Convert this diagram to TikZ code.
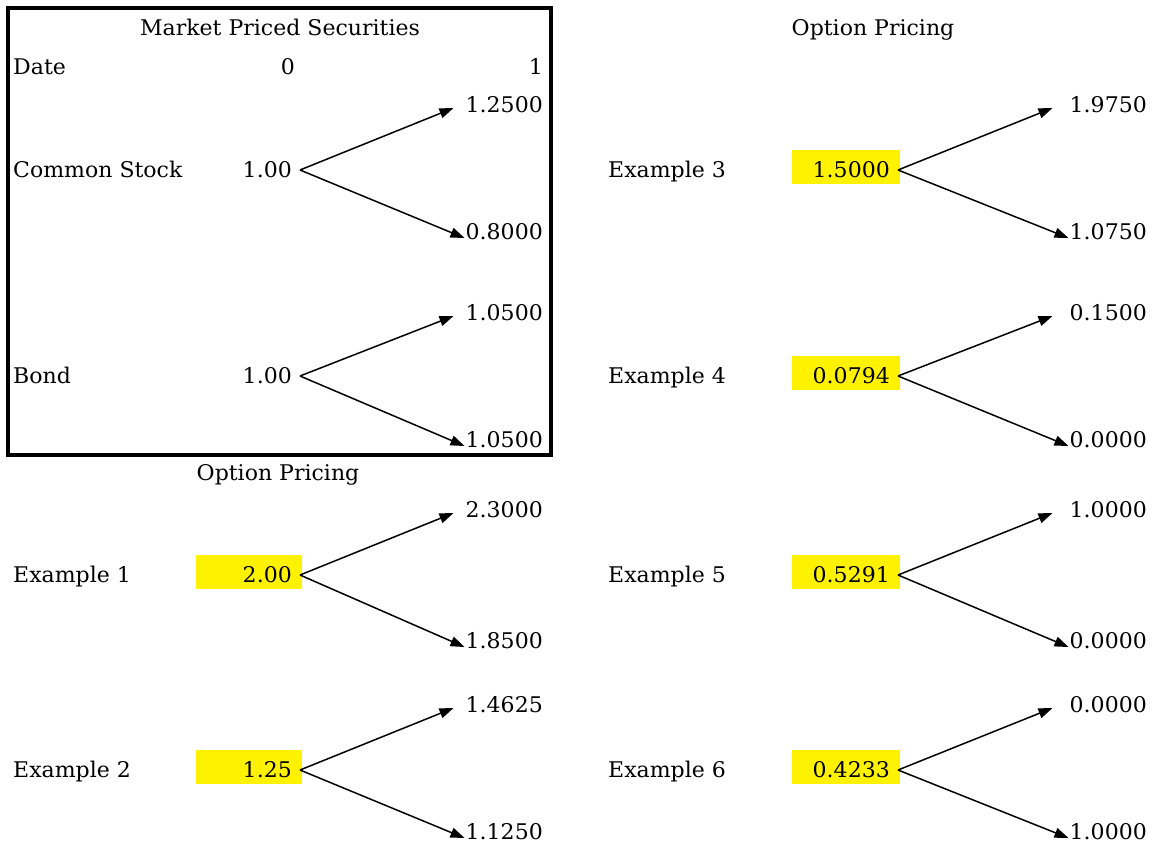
\documentclass[tikz,border=0pt]{standalone}
\usepackage{fontspec}
\setmainfont{DejaVu Serif}[FakeStretch=1.02]
\usetikzlibrary{arrows.meta,calc}

\tikzset{
  txt/.style={inner sep=0pt, font=\fontsize{21.6}{26}\selectfont},
  root/.style={txt, rectangle, minimum width=106pt, minimum height=34pt,
    inner xsep=10pt, text width=86pt, align=right,
    text height=20pt, text depth=0pt},
  hot/.style={root, fill=yellow},
  rootR/.style={root, minimum width=108pt, text width=88pt},
  hotR/.style={rootR, fill=yellow},
  arr/.style={line width=1.5pt, -{Triangle[length=14pt,width=10pt]}},
  frame/.style={draw, line width=4pt}
}

% one binomial branch: start node, up and down successor
\newcommand{\branch}[4]{% start, up, down, up gap
  \draw[arr] ($(#1.base east)+(-2,-7)$) -- ($(#2.base west)+(-#4,-4)$);
  \draw[arr] ($(#1.base east)+(-2,-7)$) -- ($(#3.base west)+(-1,-1)$);
}

\begin{document}
\begin{tikzpicture}[x=1pt,y=-1pt]
\useasboundingbox (0,0) rectangle (1156,844);

% ---------- market priced securities ----------
\node[frame, minimum width=543pt, minimum height=447pt, inner sep=0pt] (box) at (279.5,231) {};
\node[txt, anchor=base] (mps) at (280,35) {Market Priced Securities};
\node[txt, anchor=base west] (date) at (13,74) {Date};
\node[txt, anchor=base] (d0) at (288,74) {0};
\node[txt, anchor=base east] (d1) at (543,74) {1};

\node[txt, anchor=base west] (lstock) at (13,177) {Common Stock};
\node[root, anchor=base east] (stock) at (302,177) {1.00};
\node[txt, anchor=base east] (stocku) at (543,112) {1.2500};
\node[txt, anchor=base east] (stockd) at (543,239) {0.8000};
\branch{stock}{stocku}{stockd}{12}

\node[txt, anchor=base west] (lbond) at (13,383) {Bond};
\node[root, anchor=base east] (bond) at (302,383) {1.00};
\node[txt, anchor=base east] (bondu) at (543,320) {1.0500};
\node[txt, anchor=base east] (bondd) at (543,447) {1.0500};
\branch{bond}{bondu}{bondd}{12}

% ---------- option pricing, left column ----------
\node[txt, anchor=base] (opl) at (278,480) {Option Pricing};

\node[txt, anchor=base west] (lex1) at (13,582) {Example 1};
\node[hot, anchor=base east] (ex1) at (302,582) {2.00};
\node[txt, anchor=base east] (ex1u) at (543,517) {2.3000};
\node[txt, anchor=base east] (ex1d) at (543,648) {1.8500};
\branch{ex1}{ex1u}{ex1d}{12}

\node[txt, anchor=base west] (lex2) at (13,777) {Example 2};
\node[hot, anchor=base east] (ex2) at (302,777) {1.25};
\node[txt, anchor=base east] (ex2u) at (543,712) {1.4625};
\node[txt, anchor=base east] (ex2d) at (543,839) {1.1250};
\branch{ex2}{ex2u}{ex2d}{12}

% ---------- option pricing, right column ----------
\node[txt, anchor=base] (opr) at (873,35) {Option Pricing};

\node[txt, anchor=base west] (lex3) at (608,177) {Example 3};
\node[hotR, anchor=base east] (ex3) at (900,177) {1.5000};
\node[txt, anchor=base east] (ex3u) at (1147,112) {1.9750};
\node[txt, anchor=base east] (ex3d) at (1147,239) {1.0750};
\branch{ex3}{ex3u}{ex3d}{17}

\node[txt, anchor=base west] (lex4) at (608,383) {Example 4};
\node[hotR, anchor=base east] (ex4) at (900,383) {0.0794};
\node[txt, anchor=base east] (ex4u) at (1147,320) {0.1500};
\node[txt, anchor=base east] (ex4d) at (1147,447) {0.0000};
\branch{ex4}{ex4u}{ex4d}{17}

\node[txt, anchor=base west] (lex5) at (608,582) {Example 5};
\node[hotR, anchor=base east] (ex5) at (900,582) {0.5291};
\node[txt, anchor=base east] (ex5u) at (1147,517) {1.0000};
\node[txt, anchor=base east] (ex5d) at (1147,648) {0.0000};
\branch{ex5}{ex5u}{ex5d}{17}

\node[txt, anchor=base west] (lex6) at (608,777) {Example 6};
\node[hotR, anchor=base east] (ex6) at (900,777) {0.4233};
\node[txt, anchor=base east] (ex6u) at (1147,712) {0.0000};
\node[txt, anchor=base east] (ex6d) at (1147,839) {1.0000};
\branch{ex6}{ex6u}{ex6d}{17}
\end{tikzpicture}
\end{document}
